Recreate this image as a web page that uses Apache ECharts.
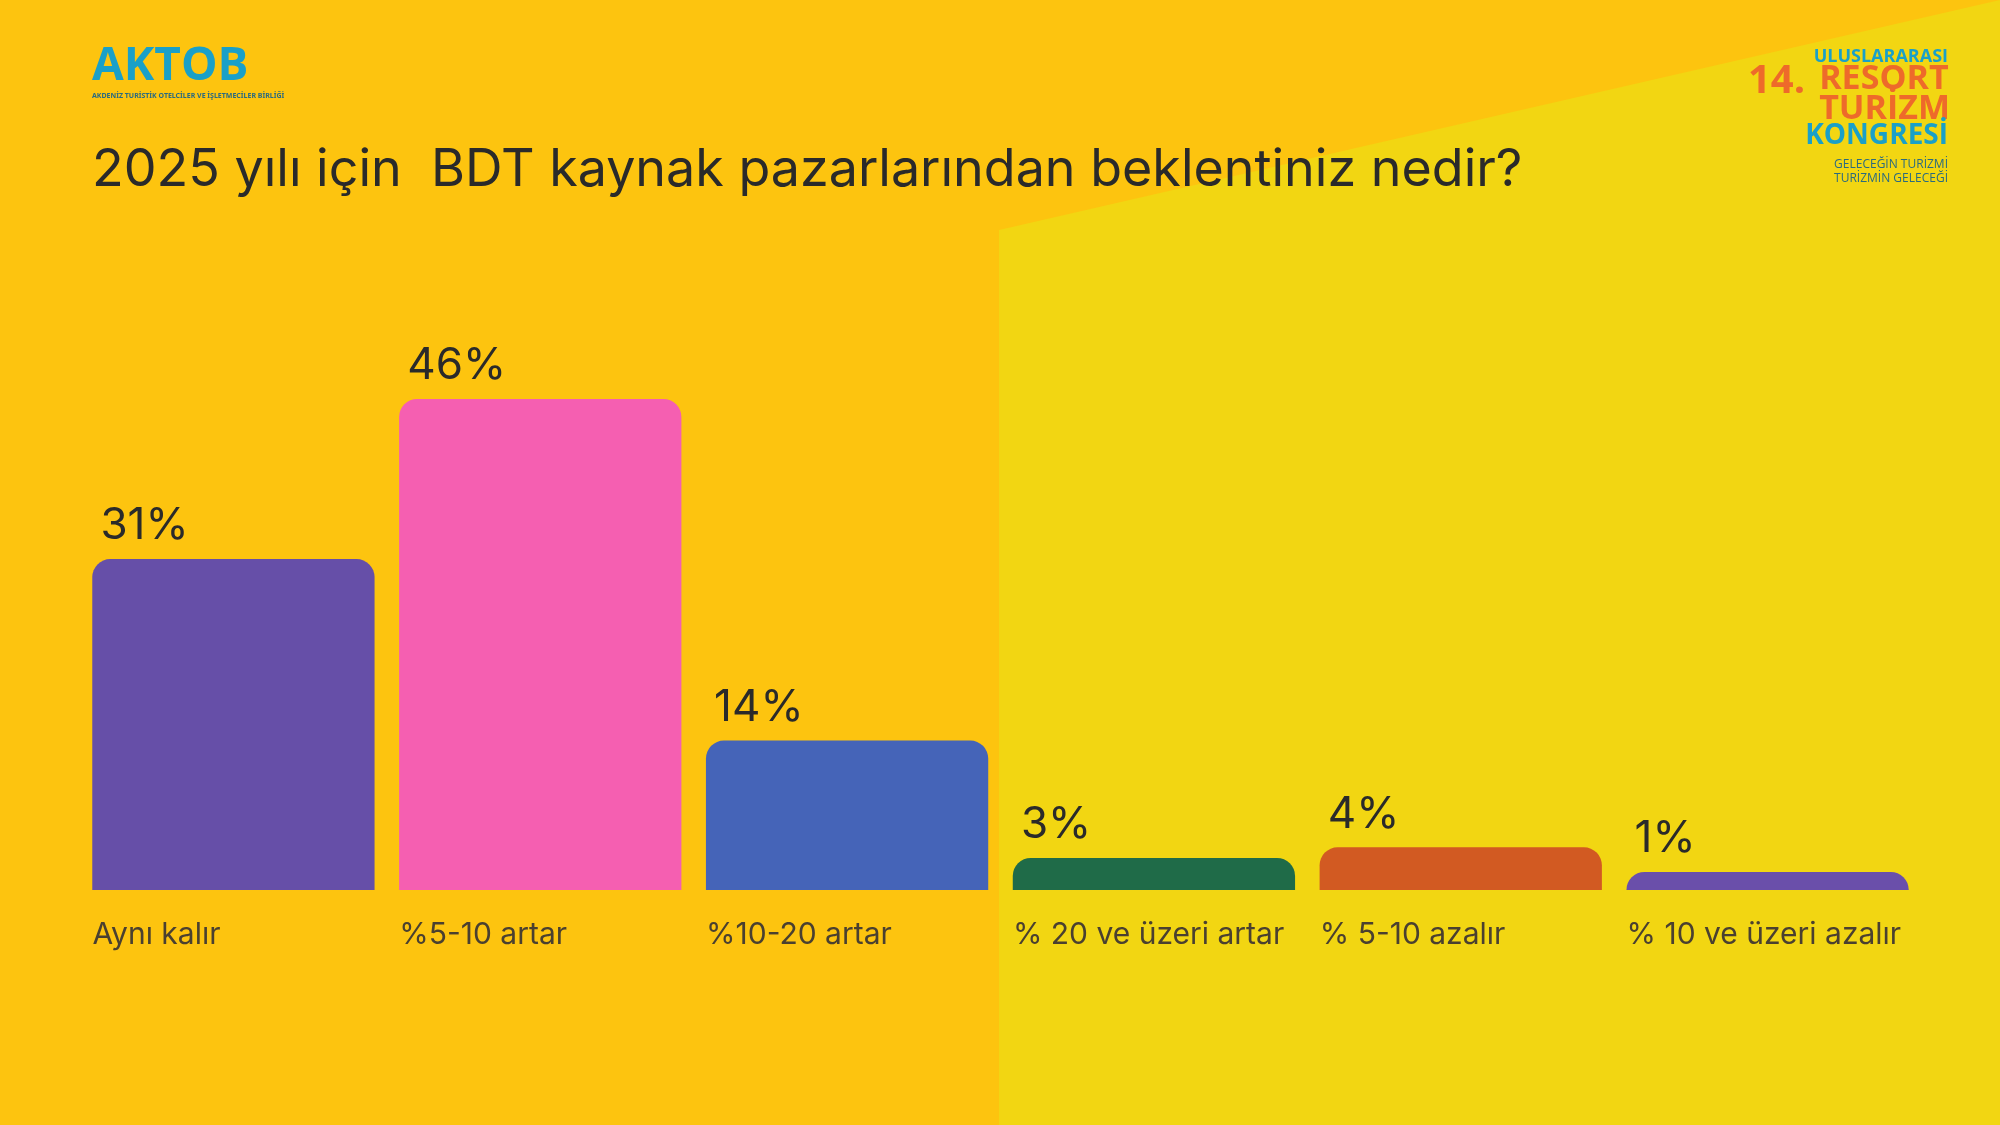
<!DOCTYPE html>
<html>
<head>
<meta charset="utf-8">
<script src="https://cdn.jsdelivr.net/npm/echarts@6/dist/echarts.min.js"></script>
<style>
  html, body { margin: 0; padding: 0; background: #FDC40F; }
  #chart { width: 2000px; height: 1125px; }
</style>
</head>
<body>
<div id="chart"></div>
<script>
// data
const categories = ['Aynı kalır', '%5-10 artar', '%10-20 artar', '% 20 ve üzeri artar', '% 5-10 azalır', '% 10 ve üzeri azalır'];
const values = [31, 46, 14, 3, 4, 1];
const barColors = ['#664FA8', '#F55FB1', '#4564B8', '#1F6B48', '#D25A22', '#6A4FAA'];

const chart = echarts.init(document.getElementById('chart'));

const option = {
    backgroundColor: '#FDC40F',
    animation: false,
    graphic: [
        // lighter yellow panel on the right
        {
            type: 'polygon', z: -10,
            shape: { points: [[999, 230], [2000, 0], [2000, 1125], [999, 1125]] },
            style: { fill: '#F2D612' }
        },
        {
            type: 'text', left: 92, top: 44,
            style: { text: 'AKTOB', fill: '#1AA0C8', font: 'bold 46px "Open Sans", sans-serif' }
        },
        {
            type: 'text', left: 92, top: 92,
            style: { text: 'AKDENİZ TURİSTİK OTELCİLER VE İŞLETMECİLER BİRLİĞİ', fill: '#2a6a80', font: 'bold 7px "Noto Sans", sans-serif' }
        },
        {
            type: 'text', left: 92, top: 144,
            style: { text: '2025 yılı için  BDT kaynak pazarlarından beklentiniz nedir?', fill: '#2a2a2a', font: '400 52px "Inter", "Noto Sans", sans-serif' }
        },
        {
            type: 'text', right: 52, top: 48,
            style: { text: 'ULUSLARARASI', fill: '#1AA0C8', font: 'bold 18px "Open Sans", sans-serif', align: 'right' }
        },
        {
            type: 'text', left: 1748, top: 62,
            style: { text: '14.', fill: '#EE6A2A', font: 'bold 40px "Open Sans", sans-serif' }
        },
        {
            type: 'text', right: 50, top: 62,
            style: { text: 'RESORT\nTURİZM', fill: '#EE6A2A', font: 'bold 34px "Open Sans", sans-serif', align: 'right', lineHeight: 30 }
        },
        {
            type: 'text', right: 52, top: 122,
            style: { text: 'KONGRESİ', fill: '#1AA0C8', font: 'bold 28px "Open Sans", sans-serif', align: 'right' }
        },
        {
            type: 'text', right: 52, top: 158,
            style: { text: 'GELECEĞİN TURİZMİ\nTURİZMİN GELECEĞİ', fill: '#2a6a80', font: '12px "Open Sans", sans-serif', align: 'right', lineHeight: 14 }
        }
    ],
    grid: { left: 80, right: 79, top: 399, bottom: 235 },
    xAxis: {
        type: 'category',
        data: categories,
        axisLine: { show: false },
        axisTick: { show: false },
        axisLabel: {
            interval: 0,
            align: 'center',
            margin: 30,
            formatter: v => '{a|' + v + '}',
            rich: {
                a: {
                    width: 282,
                    align: 'left',
                    color: '#4a4030',
                    fontSize: 30,
                    fontFamily: 'Inter, "Noto Sans", sans-serif'
                }
            }
        }
    },
    yAxis: {
        type: 'value', min: 0, max: 46, show: false,
        splitLine: { show: false }
    },
    series: [{
        type: 'bar',
        data: values.map((v, i) => ({ value: v, itemStyle: { color: barColors[i] } })),
        barCategoryGap: '8%',
        barMinHeight: 18,
        itemStyle: { borderRadius: [18, 18, 0, 0] },
        label: {
            show: true,
            position: 'top',
            align: 'left',
            offset: [-133, -6],
            formatter: '{c}%',
            color: '#2a2a2a',
            fontSize: 44,
            fontFamily: 'Inter, "Noto Sans", sans-serif'
        }
    }]
};

chart.setOption(option);
</script>
</body>
</html>
